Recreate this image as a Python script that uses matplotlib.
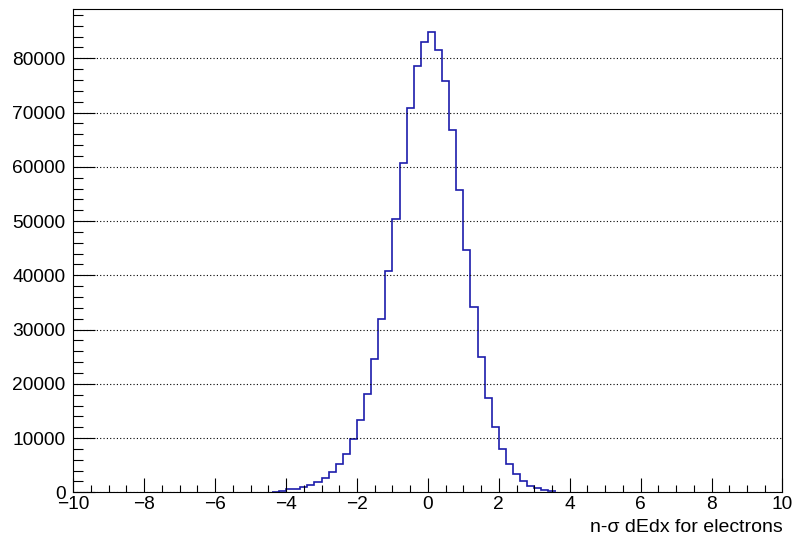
import numpy as np
import matplotlib
matplotlib.use("Agg")
import matplotlib.pyplot as plt
from matplotlib.ticker import MultipleLocator

plt.rcParams['font.family'] = ['Liberation Sans', 'DejaVu Sans']
plt.rcParams['axes.unicode_minus'] = True

# histogram binning: 100 bins over [-10, 10]
x_min, x_max, n_bins = -10.0, 10.0, 100
first_filled = -4.4   # lower edge of the first non-empty bin
counts_filled = [
    150, 250, 550, 650, 1000, 1350, 1850, 2550, 3750, 5200,
    7100, 9850, 13350, 18100, 24500, 31950, 40800, 50400, 60700, 70800,
    78500, 83000, 84800, 81550, 75900, 66800, 55800, 44600, 34200, 24900,
    17450, 12000, 8000, 5250, 3450, 2000, 1250, 750, 460, 280,
]
x_title = "n-σ dEdx for electrons"

edges = np.linspace(x_min, x_max, n_bins + 1)
counts = np.zeros(n_bins)
i0 = int(round((first_filled - x_min) / (edges[1] - edges[0])))
i1 = i0 + len(counts_filled)
counts[i0:i1] = counts_filled

fig = plt.figure(figsize=(7.96, 5.40), dpi=100)
ax = fig.add_axes([0.0921, 0.0883, 0.8909, 0.8945])

# only the non-empty stretch is drawn, empty bins sit on the axis anyway
ax.stairs(counts[i0:i1], edges[i0:i1 + 1], color='#1c1cab', linewidth=1.2,
          baseline=None, zorder=2)

ax.set_xlim(x_min, x_max)
ax.set_ylim(0, 1.05 * counts.max())

ax.xaxis.set_major_locator(MultipleLocator(2))
ax.xaxis.set_minor_locator(MultipleLocator(0.5))
ax.yaxis.set_major_locator(MultipleLocator(10000))
ax.yaxis.set_minor_locator(MultipleLocator(2000))

ax.tick_params(axis='both', which='both', direction='in', top=False, right=False,
               width=0.8, labelsize=13.8, colors='black')
ax.tick_params(axis='x', which='major', length=10, pad=3)
ax.tick_params(axis='x', which='minor', length=5)
ax.tick_params(axis='y', which='major', length=15.5, pad=5.5)
ax.tick_params(axis='y', which='minor', length=7)

ax.yaxis.grid(True, which='major', linestyle=(0, (1, 2)), color='black', linewidth=0.8)
ax.set_axisbelow(False)

for sp in ax.spines.values():
    sp.set_linewidth(0.8)
    sp.set_zorder(3)

ax.set_xlabel(x_title, fontsize=14, loc='right', labelpad=4)

fig.savefig("out.png", dpi=100)
